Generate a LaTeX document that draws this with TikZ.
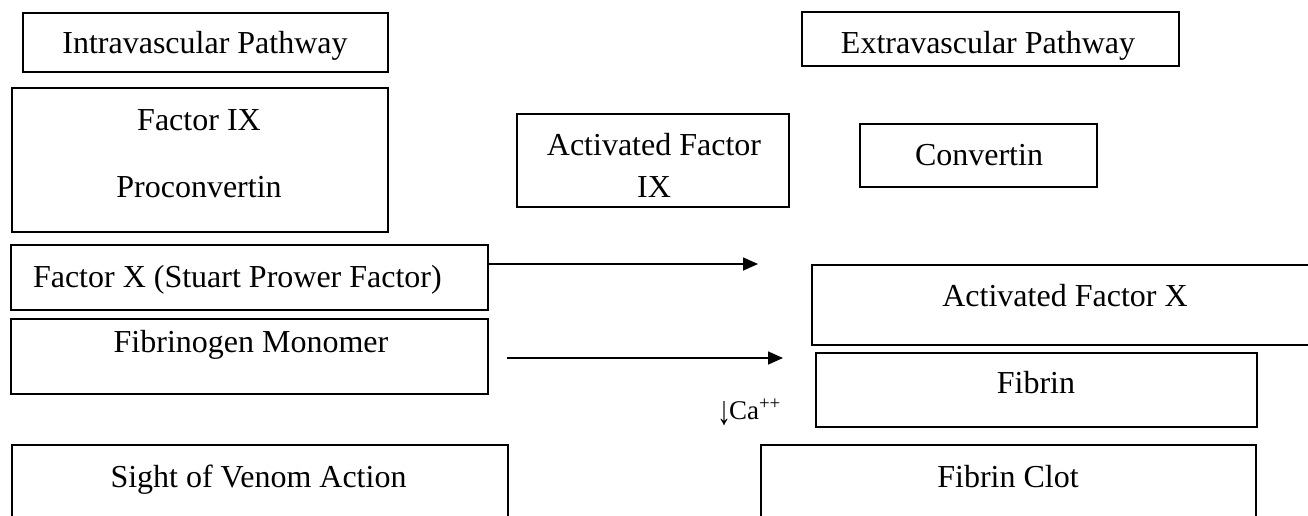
\documentclass[tikz,border=0pt]{standalone}
\usepackage{fontspec}
\usepackage{graphicx}
\setmainfont{Liberation Serif}
\usetikzlibrary{arrows.meta,fit}
\begin{document}
\begin{tikzpicture}[x=1pt,y=-1pt,
  box/.style={draw, line width=1.6pt, rectangle, inner sep=0pt, outer sep=0pt},
  lbl/.style={inner sep=0pt, outer sep=0pt, font=\fontsize{32}{38}\selectfont},
  small/.style={inner sep=0pt, outer sep=0pt, font=\fontsize{27}{30}\selectfont},
  arr/.style={line width=1.6pt, -{Triangle[length=15pt,width=13pt]}}]
\useasboundingbox (0,0) rectangle (1308,515);
% boxes
\node[box, fit={(23,13) (388,72)}] (intra) {};
\node[box, fit={(802,12) (1179,66)}] (extra) {};
\node[box, fit={(12,88) (388,232)}] (fix) {};
\node[box, fit={(517,114) (789,207)}] (afix) {};
\node[box, fit={(860,124) (1097,187)}] (conv) {};
\node[box, fit={(11,245) (488,310)}] (fx) {};
\node[box, fit={(11,319) (488,394)}] (fib) {};
\node[box, fit={(812,265) (1314,345)}] (afx) {};
\node[box, fit={(816,353) (1257,427)}] (fibrin) {};
\node[box, fit={(12,445) (508,522)}] (sight) {};
\node[box, fit={(761,445) (1256,522)}] (clot) {};
% labels
\node[lbl, anchor=base] (intra-t) at (205,53) {Intravascular Pathway};
\node[lbl, anchor=base] (extra-t) at (988,53) {Extravascular Pathway};
\node[lbl, anchor=base] (fix-t1) at (199,130) {Factor IX};
\node[lbl, anchor=base] (fix-t2) at (199,197) {Proconvertin};
\node[lbl, anchor=base] (afix-t1) at (654,155) {Activated Factor};
\node[lbl, anchor=base] (afix-t2) at (654,197) {IX};
\node[lbl, anchor=base] (conv-t) at (979,165) {Convertin};
\node[lbl, anchor=base west] (fx-t) at (33,287) {Factor X (Stuart Prower Factor)};
\node[lbl, anchor=base] (fib-t) at (251,352) {Fibrinogen Monomer};
\node[lbl, anchor=base] (afx-t) at (1065,306) {Activated Factor X};
\node[lbl, anchor=base] (fibrin-t) at (1036,393) {Fibrin};
\node[lbl, anchor=base] (sight-t) at (258.5,487) {Sight of Venom Action};
\node[lbl, anchor=base] (clot-t) at (1008,487) {Fibrin Clot};
\node[small, anchor=base west] (ca) at (717,419) {\raisebox{-5pt}{\resizebox{14pt}{23pt}{↓}}\kern-2pt Ca\textsuperscript{++}};
% arrows
\coordinate (a1s) at (488,264);
\coordinate (a1e) at (758,264);
\coordinate (a2s) at (507,358);
\coordinate (a2e) at (783,358);
\draw[arr] (a1s) -- (a1e);
\draw[arr] (a2s) -- (a2e);
\end{tikzpicture}
\end{document}
